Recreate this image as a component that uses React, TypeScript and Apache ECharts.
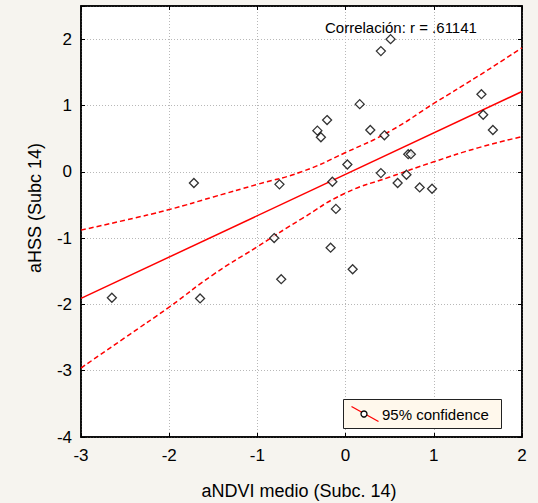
import React, { useEffect, useRef } from "react";
import * as echarts from "echarts";

// Scatter points (aNDVI medio, aHSS)
const pointX = [0.51, 0.40, 1.54, 0.16, 1.56, -0.21, 1.67, -0.32, -0.28, 0.28, 0.44, 0.71, 0.74, 0.02, 0.40, 0.69, -0.15, 0.59, -1.72, -0.75, 0.84, 0.98, -0.11, -0.81, -0.17, 0.08, -0.73, -2.65, -1.65];
const pointY = [2.0, 1.82, 1.17, 1.02, 0.86, 0.78, 0.63, 0.62, 0.52, 0.63, 0.55, 0.265, 0.265, 0.11, -0.02, -0.045, -0.15, -0.17, -0.17, -0.19, -0.236, -0.256, -0.56, -1.0, -1.145, -1.47, -1.62, -1.9, -1.91];

// Regression line end points
const fitX = [-3, 2];
const fitY = [-1.91, 1.21];

// 95% confidence band
const bandX = [-3, -2.5, -2, -1.5, -1, -0.5, 0, 0.5, 1, 1.5, 2];
const bandUpper = [-0.88, -0.73, -0.57, -0.38, -0.19, 0.0, 0.29, 0.61, 1.03, 1.44, 1.87];
const bandLower = [-2.96, -2.5, -2.04, -1.55, -1.13, -0.71, -0.32, -0.08, 0.15, 0.36, 0.53];

const xTicks = { min: -3, max: 2, interval: 1 };
const yTicks = { min: -4, max: 2.5, interval: 1 };

const xName = "aNDVI medio (Subc. 14)";
const yName = "aHSS (Subc 14)";
const corrText = "Correlación: r = .61141";
const legendText = "95% confidence";

const FONT = "'Liberation Sans', Arial, sans-serif";

export default function App() {
  const ref = useRef<HTMLDivElement>(null);
  useEffect(() => {
    if (!ref.current) return;
    const chart = echarts.init(ref.current, undefined, { renderer: "svg" });
    const zip = (xs: number[], ys: number[]) => xs.map((x, i) => [x, ys[i]]);
    const red = "#ff0000";
    const gridLine = { show: true, lineStyle: { color: "#b8b8b8", type: [1, 2] as any, width: 1 } };
    const hideLabels = { show: false };
    const inTick = { show: true, inside: true, length: 4, lineStyle: { color: "#000", width: 1 } };
    const axisLine = { show: true, onZero: false, lineStyle: { color: "#000", width: 1.5 } };
    chart.setOption({
      animation: false,
      backgroundColor: "transparent",
      textStyle: { fontFamily: FONT },
      grid: {
        left: 81,
        right: 16,
        top: 6,
        bottom: 66,
        show: true,
        backgroundColor: "#ffffff",
        borderColor: "#000",
        borderWidth: 1.5,
      },
      xAxis: [
        {
          type: "value",
          min: xTicks.min,
          max: xTicks.max,
          interval: xTicks.interval,
          position: "bottom",
          axisLine,
          axisTick: inTick,
          splitLine: gridLine,
          axisLabel: { color: "#000", fontSize: 17, margin: 10, fontFamily: FONT },
        },
        {
          type: "value",
          min: xTicks.min,
          max: xTicks.max,
          interval: xTicks.interval,
          position: "top",
          axisLine,
          axisTick: inTick,
          splitLine: { show: false },
          axisLabel: hideLabels,
        },
      ],
      yAxis: [
        {
          type: "value",
          min: yTicks.min,
          max: yTicks.max,
          interval: yTicks.interval,
          position: "left",
          axisLine,
          axisTick: inTick,
          splitLine: gridLine,
          axisLabel: {
            color: "#000",
            fontSize: 17,
            margin: 9,
            fontFamily: FONT,
            formatter: (v: number) => (v === yTicks.max ? "" : String(v)),
          },
        },
        {
          type: "value",
          min: yTicks.min,
          max: yTicks.max,
          interval: yTicks.interval,
          position: "right",
          axisLine,
          axisTick: inTick,
          splitLine: { show: false },
          axisLabel: hideLabels,
        },
      ],
      series: [
        {
          type: "line",
          data: zip(bandX, bandUpper),
          smooth: true,
          showSymbol: false,
          lineStyle: { color: red, width: 1.5, type: [5, 3] as any },
          clip: true,
          z: 2,
        },
        {
          type: "line",
          data: zip(bandX, bandLower),
          smooth: true,
          showSymbol: false,
          lineStyle: { color: red, width: 1.5, type: [5, 3] as any },
          clip: true,
          z: 2,
        },
        {
          type: "line",
          data: zip(fitX, fitY),
          showSymbol: false,
          lineStyle: { color: red, width: 1.5 },
          clip: true,
          z: 2,
        },
        {
          type: "scatter",
          data: zip(pointX, pointY),
          symbol: "path://M0,-1L1,0L0,1L-1,0Z",
          symbolSize: 9,
          itemStyle: { color: "#ffffff", borderColor: "#000", borderWidth: 1.3 },
          z: 3,
        },
      ],
      graphic: [
        {
          type: "text",
          x: 325,
          y: 27,
          style: { text: corrText, fontSize: 15, fontFamily: FONT, fill: "#000", verticalAlign: "middle", align: "left" },
          z: 10,
        },
        {
          type: "text",
          x: 299,
          y: 491,
          style: { text: xName, fontSize: 18, fontFamily: FONT, fill: "#000", verticalAlign: "middle", align: "center" },
        },
        {
          type: "text",
          x: 35,
          y: 208,
          rotation: Math.PI / 2,
          style: { text: yName, fontSize: 18, fontFamily: FONT, fill: "#000", verticalAlign: "middle", align: "center" },
        },
        {
          type: "rect",
          shape: { x: 343.5, y: 399.5, width: 158, height: 29 },
          style: { fill: "#fff8ec", stroke: "#222", lineWidth: 1 },
          z: 10,
        },
        {
          type: "line",
          shape: { x1: 351.5, y1: 406.5, x2: 378.5, y2: 421.5 },
          style: { stroke: red, lineWidth: 1.3 },
          z: 11,
        },
        {
          type: "circle",
          shape: { cx: 364, cy: 414, r: 3 },
          style: { fill: "#fff", stroke: "#000", lineWidth: 1.3 },
          z: 12,
        },
        {
          type: "text",
          x: 382,
          y: 414,
          style: { text: legendText, fontSize: 15, fontFamily: FONT, fill: "#000", verticalAlign: "middle", align: "left" },
          z: 12,
        },
      ],
    });
    return () => chart.dispose();
  }, []);
  return (
    <div
      style={{ position: "absolute", left: 0, top: 0, width: 538, height: 503, background: "#f6f4ef" }}
    >
      <div ref={ref} style={{ width: 538, height: 503 }} />
    </div>
  );
}
